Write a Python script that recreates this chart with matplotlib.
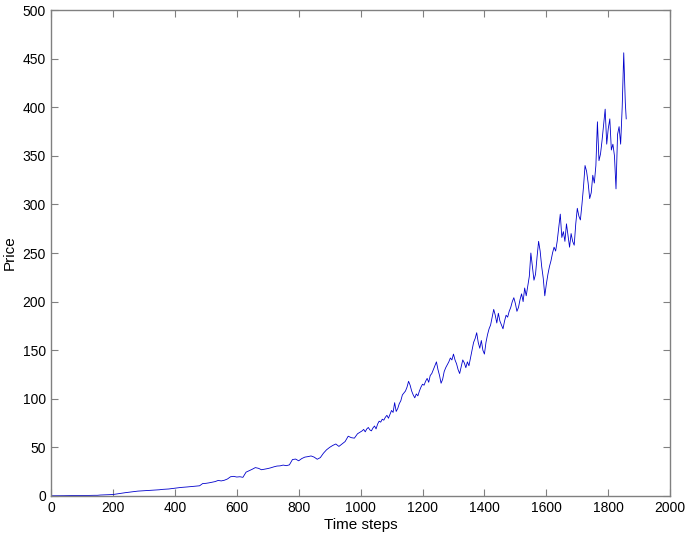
import numpy as np
import matplotlib.pyplot as plt

# time steps (sparser early on where the curve is smooth)
steps = list(range(0, 1001, 10)) + list(range(1005, 1856, 5)) + [1858]

price_early = [
    0.2, 0.2, 0.3, 0.3, 0.3, 0.4, 0.4, 0.4, 0.5, 0.5, 0.5, 0.5, 0.6, 0.6, 0.7, 0.7,
    1.0, 1.1, 1.2, 1.3, 1.5, 2.0, 2.5, 3.0, 3.4, 3.8, 4.2, 4.6, 5.0, 5.2,
    5.4, 5.6, 5.7, 5.9, 6.2, 6.4, 6.8, 7.0, 7.2, 7.6, 8.0, 8.4, 8.8, 9.0,
    9.3, 9.6, 9.9, 10.2, 10.5, 12.8, 13.0, 13.5, 14.2, 14.8, 16.0, 15.5, 16.2,
    17.5, 19.8, 20.2, 19.5, 19.8, 19.2, 24.5, 26.0, 27.5, 29.2, 28.5, 27.0,
    27.6, 28.2, 29.0, 30.0, 30.8, 31.0, 31.8, 31.2, 32.0, 37.5, 38.0, 36.2,
    38.5, 40.0, 40.5, 41.2, 40.0, 37.8, 39.5, 44.0, 47.5, 50.0, 52.0, 53.5,
    51.0, 53.5, 56.0, 61.5, 60.0, 59.5, 64.0, 66.0,
]

price_late = [
    67, 68.5, 66, 69, 70.5, 68, 67, 70, 72, 69,
    74, 77, 76, 79, 78, 81, 83, 80, 84, 88,
    86, 96, 87, 90, 95, 98, 104, 106, 108, 112,
    118, 114, 108, 104, 101, 105, 103, 108, 112, 115,
    114, 118, 121, 117, 124, 126, 130, 134, 138, 130,
    124, 116, 120, 128, 132, 135, 138, 142, 140, 146,
    140, 136, 130, 126, 133, 140, 137, 132, 138, 134,
    142, 150, 158, 162, 168, 158, 152, 160, 150, 146,
    158, 166, 172, 176, 184, 192, 186, 178, 188, 180,
    176, 172, 180, 186, 184, 190, 194, 200, 204, 198,
    190, 194, 202, 208, 200, 214, 206, 216, 226, 250,
    236, 222, 228, 246, 262, 252, 236, 224, 206, 218,
    228, 236, 242, 250, 256, 252, 262, 276, 290, 266,
    272, 262, 280, 268, 256, 270, 262, 258, 280, 296,
    288, 284, 300, 318, 340, 334, 322, 306, 312, 330,
    322, 340, 385, 345, 352, 366, 382, 398, 362, 378,
    388, 356, 362, 350, 316, 372, 380, 362, 400, 456,
    405, 388,
]

price = price_early + price_late

plt.rcParams['font.family'] = 'Liberation Sans'
fig = plt.figure(figsize=(6.88, 5.39), dpi=100)
ax = fig.add_axes([0.0741, 0.0798, 0.9, 0.9016])

ax.plot(steps, price, color='#0000cc', linewidth=0.6)

ax.set_xlim(0, 2000)
ax.set_ylim(0, 500)
ax.set_xticks(range(0, 2001, 200))
ax.set_yticks(range(0, 501, 50))
ax.tick_params(direction='in', length=5, top=True, right=True,
               color='#808080', labelsize=10, labelcolor='black')
for s in ax.spines.values():
    s.set_color('#808080')
    s.set_linewidth(1.0)

ax.set_xlabel('Time steps', fontsize=11, labelpad=2)
ax.set_ylabel('Price', fontsize=11, labelpad=4)

fig.savefig('out.png', dpi=100)
